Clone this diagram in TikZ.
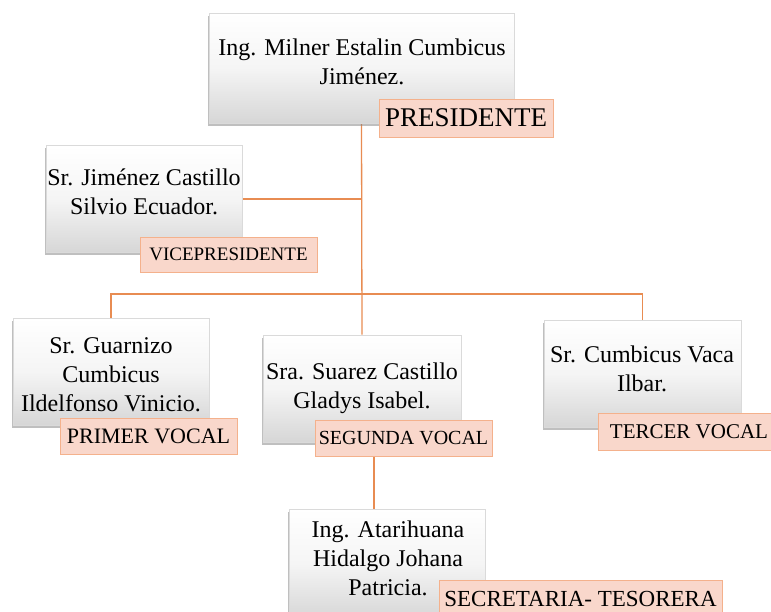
\documentclass[tikz,border=0pt]{standalone}
\usepackage{fontspec}
\setmainfont{Liberation Serif}
\usetikzlibrary{shadows,backgrounds}
\definecolor{connc}{RGB}{232,140,82}
\definecolor{labfill}{RGB}{249,215,203}
\definecolor{labdraw}{RGB}{244,177,140}
\definecolor{boxdraw}{RGB}{218,218,218}
\begin{document}
\begin{tikzpicture}[x=1pt,y=-1pt,
  box/.style={draw=boxdraw, line width=0.6pt, top color=white, bottom color=black!16, middle color=white!96!black,
    drop shadow={shadow xshift=-1.5pt, shadow yshift=-2.5pt, opacity=0.5}, inner sep=0pt},
  boxtext/.style={align=center, font=\fontsize{24}{29}\selectfont, inner sep=0pt},
  lab/.style={draw=labdraw, fill=labfill, line width=0.8pt, inner sep=0pt},
  conn/.style={draw=connc, line width=1.3pt}]
\path[use as bounding box] (0,0) rectangle (771,611);
\clip (0,0) rectangle (771,611);
% boxes
\node[box, minimum width=305pt, minimum height=110pt] (top) at (361.5,68) {};
\node[box, minimum width=196pt, minimum height=107pt] (vp) at (144,199) {};
\node[box, minimum width=196pt, minimum height=107pt] (pv) at (111,371.5) {};
\node[box, minimum width=198pt, minimum height=107pt] (sv) at (362,388.5) {};
\node[box, minimum width=197pt, minimum height=107pt] (tv) at (642.5,373.5) {};
\node[box, minimum width=196pt, minimum height=110pt] (st) at (387,564) {};
% texts
\node[boxtext] (topT) at (362,62) {Ing. Milner Estalin Cumbicus\\Jiménez.};
\node[boxtext] (vpT) at (144,191.5) {Sr. Jiménez Castillo\\Silvio Ecuador.};
\node[boxtext] (pvT) at (111,374.5) {Sr. Guarnizo\\Cumbicus\\Ildelfonso Vinicio.};
\node[boxtext] (svT) at (362,388.5) {Sra. Suarez Castillo\\Gladys Isabel.};
\node[boxtext] (tvT) at (642,368.5) {Sr. Cumbicus Vaca\\Ilbar.};
\node[boxtext] (stT) at (388,558) {Ing. Atarihuana\\Hidalgo Johana\\Patricia.};
% labels
\node[lab, minimum width=174pt, minimum height=38pt, font=\fontsize{27}{27}\selectfont] (presL) at (466,118) {PRESIDENTE};
\node[lab, minimum width=177pt, minimum height=35pt, font=\fontsize{19}{19}\selectfont] (vpL) at (228.5,254.5) {VICEPRESIDENTE};
\node[lab, minimum width=177pt, minimum height=36pt, font=\fontsize{22}{22}\selectfont] (pvL) at (148.5,436) {PRIMER VOCAL};
\node[lab, minimum width=177pt, minimum height=36pt, font=\fontsize{20}{20}\selectfont] (svL) at (403.5,438) {SEGUNDA VOCAL};
\node[lab, minimum width=182pt, minimum height=37pt, font=\fontsize{21}{21}\selectfont] (tvL) at (689,431.5) {TERCER VOCAL};
\node[lab, minimum width=283pt, minimum height=37pt, font=\fontsize{23}{23}\selectfont] (stL) at (580.5,598.5) {SECRETARIA- TESORERA};
% connectors
\coordinate (bus) at (0,294);
\coordinate (drop) at (374,0);
\begin{pgfonlayer}{background}
\fill[white] (0,0) rectangle (771,611);
\draw[conn] (top.south) -- (sv.north);
\draw[conn] (pv.north) -- (pv.north |- bus) -- (tv.north |- bus) -- (tv.north);
\draw[conn] (vp.east) -- (vp.east -| top.south);
\draw[conn] (svL.south -| drop) -- (st.north -| drop);
\end{pgfonlayer}
\end{tikzpicture}
\end{document}
